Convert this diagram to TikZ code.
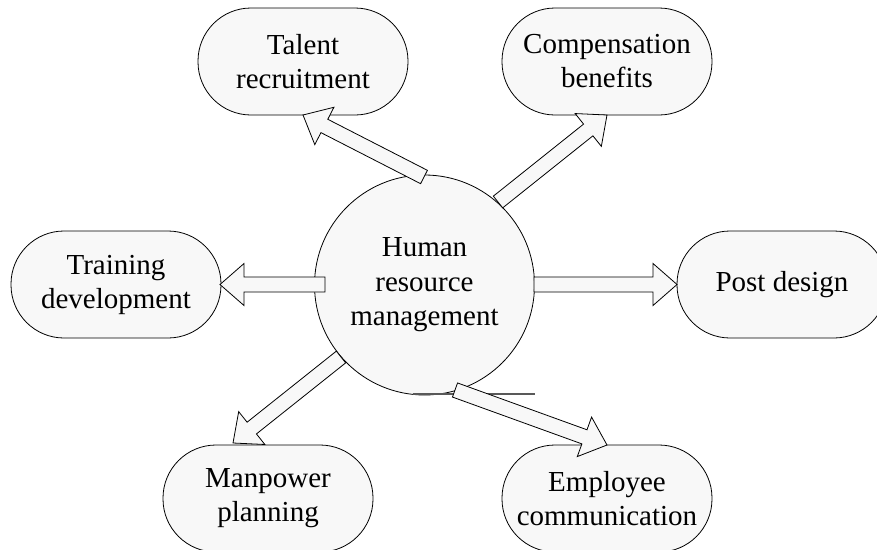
\documentclass[tikz,border=0pt]{standalone}
\usepackage{fontspec}
\setmainfont{Liberation Serif}
\usetikzlibrary{calc}
\definecolor{boxfill}{HTML}{F8F8F8}
\tikzset{
  topic/.style={draw, fill=boxfill, rounded corners=53pt, minimum width=210pt,
    minimum height=107pt, align=center, inner sep=0pt, line width=0.8pt,
    font=\fontsize{29}{34}\selectfont},
  hub/.style={draw, fill=boxfill, circle, minimum size=220pt, inner sep=0pt,
    align=center, line width=0.8pt, font=\fontsize{29}{34.5}\selectfont},
  blockarrow/.style={draw, fill=boxfill, line width=0.8pt, line join=miter},
  strayline/.style={draw=black!65, line width=1.1pt}
}
\newcommand\drawblock[2]{%
  \coordinate (hb) at ($(#2)!24pt!(#1)$);
  \draw[blockarrow] ($(#1)!7.5pt!90:(#2)$) -- ($(hb)!7.5pt!90:(#2)$)
    -- ($(hb)!21pt!90:(#2)$) -- (#2) -- ($(hb)!21pt!-90:(#2)$)
    -- ($(hb)!7.5pt!-90:(#2)$) -- ($(#1)!7.5pt!-90:(#2)$) -- cycle;}
\begin{document}
\begin{tikzpicture}[x=1pt,y=-1pt]
  \useasboundingbox (0,0) rectangle (877,549);
  \clip (0,0) rectangle (877,549);
  % outer boxes
  \node[topic] (talent) at (303,61.5) {Talent\\recruitment};
  \node[topic] (comp) at (607,61.5) {Compensation\\benefits};
  \node[topic] (train) at (116,284.5) {Training\\development};
  \node[topic] (post) at (782,284.5) {Post design};
  \node[topic] (man) at (268,498.5) {Manpower\\planning};
  \node[topic] (emp) at (607,498.5) {Employee\\communication};
  % hub
  \node[hub] (hrm) at (424.5,285) {Human\\resource\\management};
  % stray line under the hub
  \coordinate (s1) at (413,394);
  \coordinate (s2) at (535,394);
  \draw[strayline] (s1) -- (s2);
  % arrow end points
  \coordinate (ta) at (424,177);   \coordinate (tb) at (303,115);
  \coordinate (ca) at (498,202);   \coordinate (cb) at (607,115);
  \coordinate (ra) at (325,284.5); \coordinate (rb) at (220,284.5);
  \coordinate (pa) at (534,284.5); \coordinate (pb) at (677,284.5);
  \coordinate (ma) at (341,357);   \coordinate (mb) at (233,443);
  \coordinate (ea) at (455,390);   \coordinate (eb) at (607,445);
  \drawblock{ta}{tb}
  \drawblock{ca}{cb}
  \drawblock{ra}{rb}
  \drawblock{pa}{pb}
  \drawblock{ma}{mb}
  \drawblock{ea}{eb}
\end{tikzpicture}
\end{document}
